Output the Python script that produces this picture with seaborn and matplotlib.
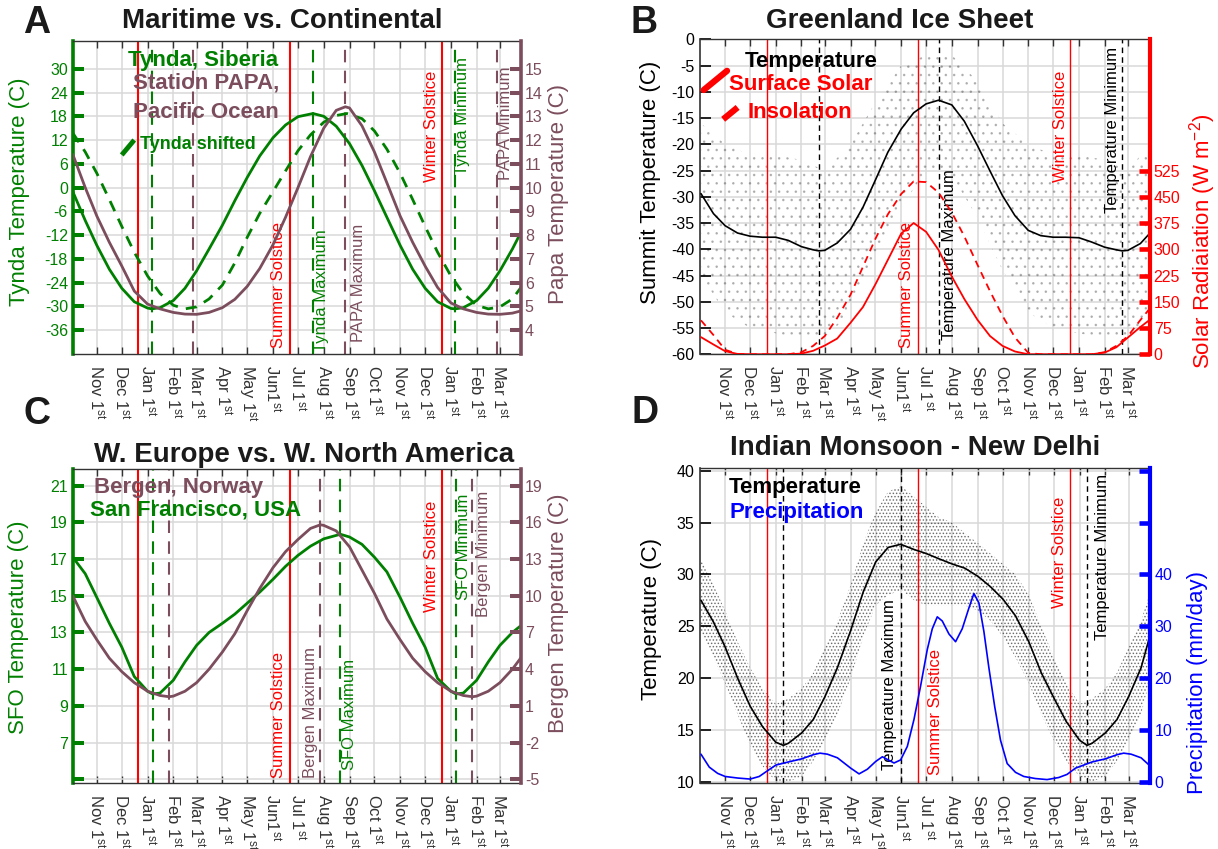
import matplotlib
matplotlib.use('Agg')
import matplotlib.pyplot as plt
from matplotlib.lines import Line2D
import seaborn as sns

sns.set_theme(style='white')
plt.rcParams['font.family'] = ['Liberation Sans', 'DejaVu Sans']
plt.rcParams['mathtext.fontset'] = 'custom'
plt.rcParams['mathtext.rm'] = 'Liberation Sans'
plt.rcParams['mathtext.it'] = 'Liberation Sans:italic'
plt.rcParams['mathtext.bf'] = 'Liberation Sans:bold'
plt.rcParams['axes.unicode_minus'] = False
plt.rcParams['hatch.linewidth'] = 0.7

GREEN = '#008000'
MAUVE = '#7b4d5d'
RED = '#ff0000'
BLUE = '#0000ff'
DARK = '#333333'

# ---------------- x axis (days relative to Jan 1) ----------------
MONTH_DAYS = [-61, -31, 0, 31, 59, 90, 120, 151, 181, 212, 243, 273, 304, 334, 365, 396, 424]
MONTH_LABELS = ['Nov 1$^{\\mathrm{st}}$', 'Dec 1$^{\\mathrm{st}}$', 'Jan 1$^{\\mathrm{st}}$',
                'Feb 1$^{\\mathrm{st}}$', 'Mar 1$^{\\mathrm{st}}$', 'Apr 1$^{\\mathrm{st}}$',
                'May 1$^{\\mathrm{st}}$', 'Jun1$^{\\mathrm{st}}$', 'Jul 1$^{\\mathrm{st}}$',
                'Aug 1$^{\\mathrm{st}}$', 'Sep 1$^{\\mathrm{st}}$', 'Oct 1$^{\\mathrm{st}}$',
                'Nov 1$^{\\mathrm{st}}$', 'Dec 1$^{\\mathrm{st}}$', 'Jan 1$^{\\mathrm{st}}$',
                'Feb 1$^{\\mathrm{st}}$', 'Mar 1$^{\\mathrm{st}}$']
SUMMER_SOLSTICE = 171
WINTER_SOLSTICES = [-11, 354]

GRID = [-90, -75, -61, -46, -31, -16, 0, 15, 31, 45, 59, 74, 90, 105, 120, 135, 151, 166, 181,
        196, 212, 227, 243, 258, 273, 288, 304, 319, 334, 349, 365, 380, 396, 410, 424, 439, 450]

# ---------------- Panel A: Tynda vs PAPA ----------------
tynda_days = [-90, -75, -61, -46, -31, -16, 0, 5, 15, 31, 45, 59, 74, 90, 105, 120, 135, 151, 166, 181,
              199, 212, 227, 243, 258, 273, 288, 304, 319, 334, 349, 365, 370, 380, 396, 410, 424, 439, 450]
tynda_temp = [-1.0, -8.3, -14.6, -20.6, -25.4, -28.8, -30.4, -30.6, -30.3, -28.5, -25.4, -21.0, -15.5,
              -9.5, -3.3, 2.6, 8.0, 12.6, 15.8, 17.9, 18.7, 18.0, 15.5, 11.1, 5.6, -0.8, -7.5, -14.6,
              -20.6, -25.4, -28.8, -30.5, -30.6, -30.3, -28.5, -25.4, -21.0, -15.5, -11.0]
shift_days = [-90, -75, -61, -46, -31, -16, 0, 15, 31, 45, 59, 74, 90, 105, 120, 135, 151, 166, 181,
              196, 212, 227, 240, 258, 273, 288, 304, 319, 334, 349, 365, 380, 396, 410, 424, 439, 450]
tynda_shifted = [13.8, 9.0, 3.6, -3.0, -9.8, -16.3, -22.3, -26.7, -29.7, -30.6, -30.1, -28.1, -24.6,
                 -19.0, -12.5, -6.5, -1.0, 4.2, 9.3, 13.3, 16.5, 18.2, 18.7, 17.4, 14.3, 9.7, 3.6,
                 -3.0, -9.8, -16.3, -22.3, -26.7, -29.7, -30.6, -30.1, -28.1, -25.0]
papa_days = [-90, -75, -61, -46, -31, -16, 0, 15, 31, 45, 59, 74, 90, 105, 120, 135, 151, 166, 181,
             196, 212, 227, 238, 243, 258, 273, 288, 304, 319, 334, 349, 365, 380, 396, 410, 424, 439, 450]
papa_temp = [11.4, 10.0, 8.8, 7.7, 6.7, 5.65, 5.1, 4.9, 4.75, 4.68, 4.67, 4.75, 4.95, 5.3, 5.85, 6.6,
             7.6, 8.75, 10.0, 11.3, 12.5, 13.25, 13.4, 13.35, 12.6, 11.5, 10.2, 8.8, 7.7, 6.7, 5.8,
             5.15, 4.9, 4.75, 4.68, 4.67, 4.72, 4.82]
TYNDA_EXTREMA = [5, 199, 370]
PAPA_EXTREMA = [55, 238, 420]
TYNDA_TICKS = [-36, -30, -24, -18, -12, -6, 0, 6, 12, 18, 24, 30]
PAPA_TICKS = [4, 5, 6, 7, 8, 9, 10, 11, 12, 13, 14, 15]

# ---------------- Panel B: Greenland ----------------
summit_days = [-90, -75, -61, -46, -31, -16, 0, 15, 31, 45, 52, 59, 74, 90, 105, 120, 135, 151, 166,
               181, 196, 212, 227, 243, 258, 273, 288, 304, 319, 334, 349, 365, 380, 396, 410, 417,
               424, 439, 450]
summit_temp = [-29.4, -33.2, -35.5, -36.9, -37.5, -37.7, -37.7, -38.3, -39.5, -40.1, -40.3, -40.2,
               -38.8, -36.2, -32.0, -26.8, -21.5, -17.1, -14.0, -12.3, -11.6, -12.5, -15.6, -20.3,
               -25.1, -29.8, -33.6, -36.4, -37.4, -37.7, -37.7, -37.8, -38.6, -39.6, -40.1, -40.3,
               -40.2, -38.9, -37.0]
surface_solar = [49, 28, 9, 1, 0, 0, 0, 0, 2, 10, 25, 45, 90, 135, 200, 270, 345, 375, 350, 298, 222,
                 158, 98, 52, 24, 8, 0, 0, 0, 0, 0, 0, 5, 20, 48, 78, 98]
insolation = [97, 55, 13, 1, 0, 0, 0, 0, 6, 24, 52, 104, 170, 250, 330, 400, 458, 494, 492, 462, 405,
              337, 255, 180, 110, 48, 4, 0, 0, 0, 0, 0, 6, 24, 52, 98, 130]
summit_spread_days = [-90, -61, -31, 0, 31, 59, 90, 120, 151, 181, 212, 243, 273, 304, 334, 365, 396, 424, 450]
summit_spread_lo = [-45, -52, -55, -56, -57, -57, -52, -42, -32, -25, -26, -34, -44, -52, -55, -56, -57, -57, -52]
summit_spread_hi = [-16, -20, -22, -22, -23, -25, -20, -12, -5, -3, -3, -8, -16, -20, -22, -22, -23, -25, -20]
SUMMIT_EXTREMA = [52, 196, 417]
SUMMIT_TICKS = [0, -5, -10, -15, -20, -25, -30, -35, -40, -45, -50, -55, -60]
SOLAR_TICKS = [0, 75, 150, 225, 300, 375, 450, 525]

# ---------------- Panel C: SFO vs Bergen ----------------
sfo_days = [-90, -75, -61, -46, -31, -16, 0, 6, 15, 31, 45, 59, 74, 90, 105, 120, 135, 151, 166, 181,
            196, 212, 232, 243, 258, 273, 288, 304, 319, 334, 349, 365, 371, 380, 396, 410, 424, 439, 450]
sfo_temp = [17.1, 16.2, 14.9, 13.5, 12.2, 10.6, 9.8, 9.65, 9.7, 10.4, 11.4, 12.3, 13.0, 13.5, 14.0,
            14.6, 15.2, 15.9, 16.6, 17.2, 17.7, 18.1, 18.35, 18.2, 17.8, 17.1, 16.3, 14.9, 13.5, 12.2,
            10.5, 9.8, 9.65, 9.7, 10.4, 11.4, 12.3, 13.0, 13.4]
bergen_days = [-90, -75, -61, -46, -31, -16, 0, 15, 26, 31, 45, 59, 74, 90, 105, 120, 135, 151, 166,
               181, 196, 208, 212, 227, 243, 258, 273, 288, 304, 319, 334, 349, 365, 380, 391, 396,
               410, 424, 439, 450]
bergen_temp = [10.0, 7.9, 6.4, 4.9, 3.8, 2.9, 2.2, 1.85, 1.75, 1.8, 2.2, 2.9, 4.0, 5.4, 6.9, 8.8, 10.6,
               12.3, 13.6, 14.6, 15.5, 15.8, 15.75, 15.3, 14.0, 12.1, 10.2, 8.1, 6.4, 4.9, 3.8, 2.9,
               2.2, 1.85, 1.75, 1.8, 2.2, 2.9, 4.0, 5.0]
SFO_EXTREMA = [6, 232, 371]
BERGEN_EXTREMA = [26, 208, 391]
SFO_TICKS = [5, 7, 9, 11, 13, 15, 17, 19, 21]
SFO_TICKLABELS = ['', '7', '9', '11', '13', '15', '17', '19', '21']
BERGEN_TICKS = [-5, -2, 1, 4, 7, 10, 13, 16, 19]

# ---------------- Panel D: New Delhi ----------------
delhi_days = [-90, -75, -61, -46, -31, -16, 0, 9, 15, 31, 45, 59, 74, 90, 105, 120, 135, 150, 166,
              181, 196, 212, 227, 243, 258, 273, 288, 304, 319, 334, 349, 365, 374, 380, 396, 410,
              424, 439, 450]
delhi_temp = [27.5, 25.4, 23.0, 20.0, 17.3, 15.3, 13.8, 13.5, 13.7, 14.7, 16.0, 18.2, 21.0, 24.6, 28.3,
              31.2, 32.6, 32.9, 32.4, 32.0, 31.5, 31.0, 30.6, 29.8, 28.8, 27.6, 26.0, 23.5, 20.5, 18.1,
              15.8, 14.0, 13.5, 13.7, 14.7, 16.0, 18.2, 21.0, 24.2]
delhi_spread_lo = [24.5, 22.0, 19.5, 16.5, 13.5, 11.5, 10.0, 10.0, 10.5, 12.0, 14.0, 16.5, 20.0, 24.0,
                   27.0, 28.0, 28.5, 27.5, 27.0, 27.0, 27.0, 27.0, 26.5, 25.5, 24.0, 22.0, 19.5, 16.5,
                   14.0, 12.0, 10.5, 10.0, 10.5, 12.0, 14.0, 16.5, 20.0]
delhi_spread_hi = [31.5, 29.0, 26.5, 23.5, 21.0, 19.0, 17.5, 18.0, 19.0, 20.5, 23.0, 25.5, 29.0, 33.0,
                   36.0, 38.0, 38.5, 37.5, 36.5, 35.5, 35.0, 34.0, 33.0, 32.0, 31.0, 30.0, 28.0, 25.0,
                   22.0, 19.5, 17.5, 18.0, 19.0, 20.5, 23.0, 25.5, 28.5]
precip_days = [-90, -80, -70, -61, -46, -31, -20, -11, 0, 15, 31, 45, 53, 62, 74, 90, 100, 110, 120,
               128, 135, 142, 150, 158, 166, 174, 182, 188, 194, 200, 208, 216, 224, 232, 238, 244,
               250, 256, 263, 270, 278, 288, 298, 312, 326, 340, 350, 360, 370, 380, 396, 410, 418,
               427, 439, 450]
precip = [5.3, 2.8, 1.6, 1.0, 0.7, 0.5, 1.0, 2.0, 3.2, 3.8, 4.4, 5.2, 5.5, 5.3, 4.6, 2.6, 1.5, 2.4, 3.9,
          4.8, 4.2, 3.6, 4.2, 6.8, 12.0, 18.5, 25.5, 29.5, 31.8, 31.0, 28.5, 27.0, 29.5, 33.5, 36.3,
          34.5, 29.0, 22.0, 14.5, 8.0, 3.5, 1.8, 1.0, 0.6, 0.4, 0.8, 1.4, 2.6, 3.2, 3.8, 4.4, 5.2, 5.5,
          5.3, 4.6, 3.0]
DELHI_EXTREMA = [9, 150, 374]
DELHI_TICKS = [10, 15, 20, 25, 30, 35, 40]
PRECIP_TICKS = [0, 10, 20, 30, 40, 50, 60]
PRECIP_TICKLABELS = ['0', '10', '20', '30', '40', '', '']

# ================= figure =================
fig = plt.figure(figsize=(12.18, 8.49), dpi=100)
axA = fig.add_axes([0.0603, 0.5830, 0.3672, 0.3687])
axB = fig.add_axes([0.5749, 0.5827, 0.3689, 0.3710])
axC = fig.add_axes([0.0603, 0.0777, 0.3672, 0.3698])
axD = fig.add_axes([0.5749, 0.0781, 0.3695, 0.3703])


def base_style(ax, xlim, lcol, llw):
    ax.set_xlim(*xlim)
    ax.set_xticks(MONTH_DAYS)
    ax.set_xticklabels(MONTH_LABELS, rotation=270, fontsize=12, color=DARK)
    ax.tick_params(axis='x', direction='in', length=5, width=1, top=True, bottom=True,
                   color=DARK, pad=8)
    ax.tick_params(axis='y', direction='in', length=8, width=llw + 0.3, left=True, right=False,
                   color=lcol, labelcolor=lcol, labelsize=11.5, pad=4)
    ax.grid(True, color='#d8d8d8', lw=1.1)
    ax.set_axisbelow(True)
    for s in ['top', 'bottom']:
        ax.spines[s].set_color(DARK)
        ax.spines[s].set_linewidth(1.0)
    ax.spines['right'].set_visible(False)
    ax.spines['left'].set_color(lcol)
    ax.spines['left'].set_linewidth(llw)
    ax.set_xlabel('')


def twin_style(ax2, rcol, rlw):
    for s in ['top', 'bottom', 'left']:
        ax2.spines[s].set_visible(False)
    ax2.spines['right'].set_color(rcol)
    ax2.spines['right'].set_linewidth(rlw)
    ax2.tick_params(axis='y', direction='in', length=8, width=rlw + 0.3, color=rcol,
                    labelcolor=rcol, labelsize=11.5, pad=3)
    ax2.grid(False)


def vline(ax, day, color, dashed, lw):
    ln = ax.axvline(day, color=color, lw=lw, zorder=1.5)
    if dashed:
        ln.set_dashes(dashed)


def vlabel(ax, day, yfrac, text, color, side, dx):
    ax.annotate(text, xy=(day, yfrac), xycoords=ax.get_xaxis_transform(),
                xytext=(dx, 0), textcoords='offset pixels', rotation=90,
                ha=side, va='bottom', color=color, fontsize=12, zorder=6)


def line(ax, x, y, color, lw, dashes=None, z=3):
    sns.lineplot(x=x, y=y, ax=ax, color=color, lw=lw, sort=False, estimator=None,
                 legend=False, zorder=z)
    ln = ax.lines[-1]
    if dashes:
        ln.set_dashes(dashes)
    ax.set_xlabel('')
    ax.set_ylabel('')


# ---------------- Panel A ----------------
base_style(axA, (-89.2, 449), GREEN, 2.6)
axA.set_ylim(-42, 37)
axA.set_yticks(TYNDA_TICKS)
for d in [SUMMER_SOLSTICE] + WINTER_SOLSTICES:
    vline(axA, d, RED, None, 1.5)
for d in TYNDA_EXTREMA:
    vline(axA, d, GREEN, (6, 4), 1.5)
for d in PAPA_EXTREMA:
    vline(axA, d, MAUVE, (6, 4), 1.5)
line(axA, tynda_days, tynda_temp, GREEN, 2.0)
line(axA, shift_days, tynda_shifted, GREEN, 2.0, dashes=(4, 3))
axA2 = axA.twinx()
line(axA2, papa_days, papa_temp, MAUVE, 2.0)
axA2.set_ylim(3.0, 16.167)
axA2.set_yticks(PAPA_TICKS)
twin_style(axA2, MAUVE, 2.6)
axA.set_ylabel('Tynda Temperature (C)', fontsize=16, color=GREEN)
axA.yaxis.set_label_coords(-0.097, 0.52)
axA2.set_ylabel('Papa Temperature (C)', fontsize=16, color=MAUVE)
axA2.yaxis.set_label_coords(1.061, 0.51)
vlabel(axA, SUMMER_SOLSTICE, 0.019, 'Summer Solstice', RED, 'right', -4)
vlabel(axA, TYNDA_EXTREMA[1], 0.005, 'Tynda Maximum', GREEN, 'left', 1)
vlabel(axA, PAPA_EXTREMA[1], 0.04, 'PAPA Maximum', MAUVE, 'left', 6)
vlabel(axA, WINTER_SOLSTICES[1], 0.55, 'Winter Solstice', RED, 'right', -3)
vlabel(axA, TYNDA_EXTREMA[2], 0.572, 'Tynda Minimum', GREEN, 'left', 0)
vlabel(axA, PAPA_EXTREMA[2], 0.556, 'PAPA Minimum', MAUVE, 'left', 1)
axA.text(0.122, 0.939, 'Tynda, Siberia', transform=axA.transAxes, color=GREEN, fontsize=16,
         fontweight='bold', va='center', zorder=7)
axA.text(0.133, 0.866, 'Station PAPA,', transform=axA.transAxes, color=MAUVE, fontsize=16,
         fontweight='bold', va='center', zorder=7)
axA.text(0.133, 0.773, 'Pacific Ocean', transform=axA.transAxes, color=MAUVE, fontsize=16,
         fontweight='bold', va='center', zorder=7)
axA.text(0.149, 0.668, 'Tynda shifted', transform=axA.transAxes, color=GREEN, fontsize=13,
         fontweight='bold', va='center', zorder=7)
axA.add_line(Line2D([0.108, 0.156], [0.636, 0.718], transform=axA.transAxes, color=GREEN, lw=3.5,
                    dashes=(4, 3), zorder=7))
axA.text(0.466, 1.0415, 'Maritime vs. Continental', transform=axA.transAxes, ha='center',
         va='baseline', fontsize=20, fontweight='bold', color='#1a1a1a')

# ---------------- Panel B ----------------
base_style(axB, (-90.9, 450), DARK, 1.2)
axB.set_ylim(-60, 0)
axB.set_yticks(SUMMIT_TICKS)
axB.tick_params(axis='y', colors='black', labelcolor='black', width=1.2)
axB.fill_between(summit_spread_days, summit_spread_lo, summit_spread_hi, facecolor='none',
                 edgecolor=(0, 0, 0, 0.22), hatch='..', lw=0, zorder=1)
for d in [SUMMER_SOLSTICE] + WINTER_SOLSTICES:
    vline(axB, d, RED, None, 1.0)
for d in SUMMIT_EXTREMA:
    vline(axB, d, 'black', (4, 3), 1.0)
line(axB, summit_days, summit_temp, 'black', 1.2)
axB2 = axB.twinx()
line(axB2, GRID, surface_solar, RED, 1.3)
line(axB2, GRID, insolation, RED, 1.3, dashes=(4, 3))
axB2.set_ylim(0, 900)
axB2.set_yticks(SOLAR_TICKS)
twin_style(axB2, RED, 3.0)
axB.set_ylabel('Summit Temperature (C)', fontsize=16, color='black')
axB.yaxis.set_label_coords(-0.088, 0.545)
axB2.set_ylabel('Solar Radiaiation (W m$^{-2}$)', fontsize=16, color=RED)
axB2.yaxis.set_label_coords(1.083, 0.36)
vlabel(axB, SUMMER_SOLSTICE, 0.019, 'Summer Solstice', RED, 'right', -4)
vlabel(axB, SUMMIT_EXTREMA[1], 0.045, 'Temperature Maximum', 'black', 'left', 3)
vlabel(axB, WINTER_SOLSTICES[1], 0.548, 'Winter Solstice', RED, 'right', -2)
vlabel(axB, SUMMIT_EXTREMA[2], 0.448, 'Temperature Minimum', 'black', 'right', -2)
axB.text(0.0986, 0.931, 'Temperature', transform=axB.transAxes, color='black', fontsize=16,
         fontweight='bold', va='center', zorder=7)
axB.text(0.0639, 0.855, 'Surface Solar', transform=axB.transAxes, color=RED, fontsize=16,
         fontweight='bold', va='center', zorder=7)
axB.text(0.106, 0.769, 'Insolation', transform=axB.transAxes, color=RED, fontsize=16,
         fontweight='bold', va='center', zorder=7)
axB.add_line(Line2D([0.0076, 0.0597], [0.839, 0.900], transform=axB.transAxes, color=RED, lw=4.5,
                    zorder=7))
axB.add_line(Line2D([0.051, 0.103], [0.746, 0.807], transform=axB.transAxes, color=RED, lw=4.5,
                    dashes=(3, 2.2), zorder=7))
axB.text(0.445, 1.035, 'Greenland Ice Sheet', transform=axB.transAxes, ha='center',
         va='baseline', fontsize=20, fontweight='bold', color='#1a1a1a')

# ---------------- Panel C ----------------
base_style(axC, (-89.2, 449), GREEN, 2.6)
axC.set_ylim(4.8, 21.9)
axC.set_yticks(SFO_TICKS)
axC.set_yticklabels(SFO_TICKLABELS)
for d in [SUMMER_SOLSTICE] + WINTER_SOLSTICES:
    vline(axC, d, RED, None, 1.5)
for d in SFO_EXTREMA:
    vline(axC, d, GREEN, (6, 4), 1.5)
for d in BERGEN_EXTREMA:
    vline(axC, d, MAUVE, (6, 4), 1.5)
line(axC, sfo_days, sfo_temp, GREEN, 2.0, z=4)
axC2 = axC.twinx()
line(axC2, bergen_days, bergen_temp, MAUVE, 2.0)
axC2.set_ylim(-5.3, 20.35)
axC2.set_yticks(BERGEN_TICKS)
twin_style(axC2, MAUVE, 2.6)
axC.set_ylabel('SFO Temperature (C)', fontsize=16, color=GREEN)
axC.yaxis.set_label_coords(-0.0995, 0.495)
axC2.set_ylabel('Bergen Temperature (C)', fontsize=16, color=MAUVE)
axC2.yaxis.set_label_coords(1.061, 0.54)
vlabel(axC, SUMMER_SOLSTICE, 0.015, 'Summer Solstice', RED, 'right', -4)
vlabel(axC, BERGEN_EXTREMA[1], 0.015, 'Bergen Maximum', MAUVE, 'right', -2)
vlabel(axC, SFO_EXTREMA[1], 0.041, 'SFO Maximum', GREEN, 'left', 2)
vlabel(axC, WINTER_SOLSTICES[1], 0.546, 'Winter Solstice', RED, 'right', -3)
vlabel(axC, SFO_EXTREMA[2], 0.583, 'SFO Minimum', GREEN, 'left', 0)
vlabel(axC, BERGEN_EXTREMA[2], 0.53, 'Bergen Minimum', MAUVE, 'left', 4)
axC.text(0.045, 0.941, 'Bergen, Norway', transform=axC.transAxes, color=MAUVE, fontsize=16,
         fontweight='bold', va='center', zorder=7)
axC.text(0.0376, 0.869, 'San Francisco, USA', transform=axC.transAxes, color=GREEN, fontsize=16,
         fontweight='bold', va='center', zorder=7)
axC.text(0.515, 1.023, 'W. Europe vs. W. North America', transform=axC.transAxes, ha='center',
         va='baseline', fontsize=20, fontweight='bold', color='#1a1a1a')

# ---------------- Panel D ----------------
base_style(axD, (-90.9, 450), DARK, 1.2)
axD.set_ylim(9.9, 40.23)
axD.set_yticks(DELHI_TICKS)
axD.tick_params(axis='y', colors='black', labelcolor='black', width=1.2)
axD.fill_between(GRID, delhi_spread_lo, delhi_spread_hi, facecolor='none',
                 edgecolor=(0, 0, 0, 0.5), hatch='.....', lw=0, zorder=1)
for d in [SUMMER_SOLSTICE] + WINTER_SOLSTICES:
    vline(axD, d, RED, None, 1.0)
for d in DELHI_EXTREMA:
    vline(axD, d, 'black', (4, 3), 1.0)
line(axD, delhi_days, delhi_temp, 'black', 1.2)
axD2 = axD.twinx()
line(axD2, precip_days, precip, BLUE, 1.2)
axD2.set_ylim(-0.2, 60.46)
axD2.set_yticks(PRECIP_TICKS)
axD2.set_yticklabels(PRECIP_TICKLABELS)
twin_style(axD2, BLUE, 3.0)
axD.set_ylabel('Temperature (C)', fontsize=16, color='black')
axD.yaxis.set_label_coords(-0.084, 0.52)
axD2.set_ylabel('Precipitation (mm/day)', fontsize=16, color=BLUE)
axD2.yaxis.set_label_coords(1.082, 0.32)
vlabel(axD, DELHI_EXTREMA[1], 0.04, 'Temperature Maximum', 'black', 'right', -4)
vlabel(axD, SUMMER_SOLSTICE, 0.025, 'Summer Solstice', RED, 'left', 10)
vlabel(axD, WINTER_SOLSTICES[1], 0.555, 'Winter Solstice', RED, 'right', -3)
vlabel(axD, DELHI_EXTREMA[2], 0.454, 'Temperature Minimum', 'black', 'left', 8)
axD.text(0.0624, 0.940, 'Temperature', transform=axD.transAxes, color='black', fontsize=16,
         fontweight='bold', va='center', zorder=7)
axD.text(0.066, 0.861, 'Precipitation', transform=axD.transAxes, color=BLUE, fontsize=16,
         fontweight='bold', va='center', zorder=7)
axD.text(0.477, 1.042, 'Indian Monsoon - New Delhi', transform=axD.transAxes, ha='center',
         va='baseline', fontsize=20, fontweight='bold', color='#1a1a1a')

# ---------------- panel letters ----------------
for letter, (px, py) in {'A': (37, 33), 'B': (644, 33), 'C': (37, 424), 'D': (645, 423)}.items():
    fig.text(px / 1218, 1 - py / 849, letter, ha='center', va='baseline', fontsize=27,
             fontweight='bold', color='#1a1a1a')

fig.savefig('out.png', dpi=100)
